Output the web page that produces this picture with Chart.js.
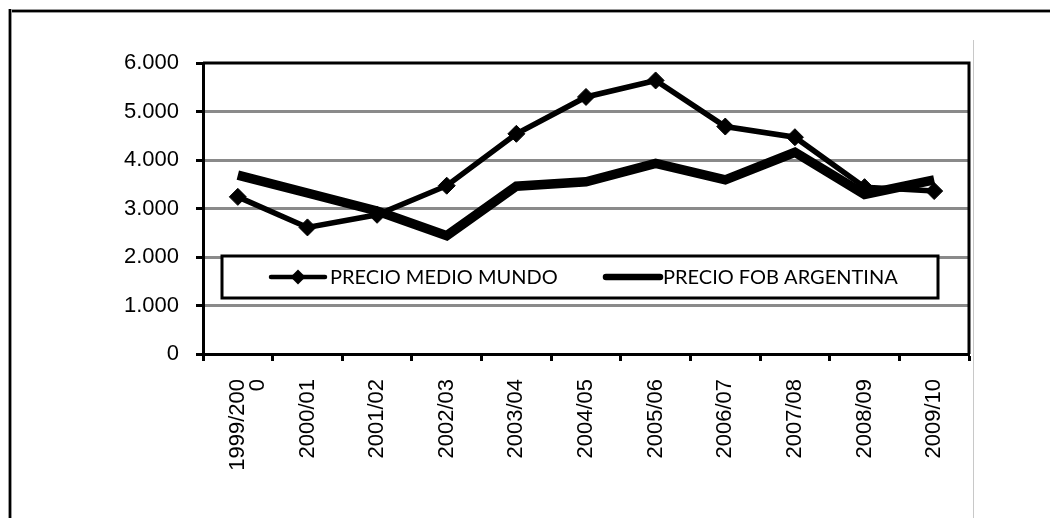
<!DOCTYPE html>
<html>
<head>
<meta charset="utf-8">
<script src="https://cdn.jsdelivr.net/npm/chart.js@4.4.1/dist/chart.umd.min.js"></script>
<style>
    html, body { margin: 0; padding: 0; background: #fff; }
    #wrap { position: relative; width: 1050px; height: 518px; overflow: hidden; }
    #chart { position: absolute; left: 0; top: 0; }
    .frame-top { position: absolute; left: 8px; top: 9px; width: 1042px; height: 2px; background: #000; border-top: 1px solid #999; border-bottom: 1px solid #999; }
    .frame-left { position: absolute; left: 8px; top: 9px; width: 2px; height: 509px; background: #000; border-left: 1px solid #999; border-right: 1px solid #999; }
    .frame-right { position: absolute; left: 973px; top: 40px; width: 1px; height: 478px; background: #c8c8c8; }
</style>
</head>
<body>
<div id="wrap">
    <canvas id="chart" width="1050" height="518"></canvas>
    <div class="frame-top"></div>
    <div class="frame-left"></div>
    <div class="frame-right"></div>
</div>
<script>
// campañas
const categories = [['1999/200', '0'], '2000/01', '2001/02', '2002/03', '2003/04', '2004/05',
    '2005/06', '2006/07', '2007/08', '2008/09', '2009/10'];

// valores
const precioMedioMundo = [3240, 2610, 2870, 3470, 4540, 5300, 5640, 4690, 4470, 3440, 3360];
const precioFobArgentina = [3690, 3320, 2950, 2440, 3460, 3550, 3930, 3590, 4160, 3290, 3590];

const yTicks = [0, 1000, 2000, 3000, 4000, 5000, 6000];

const tickFont = { family: "Arial, 'Liberation Sans', sans-serif", size: 22, lineHeight: 0.9 };

function formatMiles(v) {
    return String(v).replace(/\B(?=(\d{3})+(?!\d))/g, '.');
}

// marco superior/derecho del área de trazado
const plotFrame = {
    id: 'plotFrame',
    afterDatasetsDraw(chart) {
        const { ctx, chartArea: a } = chart;
        ctx.save();
        ctx.strokeStyle = '#000';
        ctx.lineWidth = 3;
        ctx.beginPath();
        ctx.moveTo(a.left, a.top);
        ctx.lineTo(a.right, a.top);
        ctx.lineTo(a.right, a.bottom);
        ctx.stroke();
        ctx.restore();
    }
};

// leyenda con recuadro dentro del gráfico
const boxLegend = {
    id: 'boxLegend',
    afterDatasetsDraw(chart) {
        const { ctx } = chart;
        const box = { left: 222, top: 256, right: 938, bottom: 298 };
        ctx.save();
        ctx.fillStyle = '#fff';
        ctx.fillRect(box.left, box.top, box.right - box.left, box.bottom - box.top);
        ctx.strokeStyle = '#000';
        ctx.lineWidth = 3;
        ctx.strokeRect(box.left, box.top, box.right - box.left, box.bottom - box.top);

        const midY = (box.top + box.bottom) / 2;
        const entries = [{ x: 271, textX: 330, w: 4.5 }, { x: 606, textX: 663, w: 6.5 }];
        ctx.font = "20px Lato, 'Liberation Sans Narrow', sans-serif";
        ctx.textBaseline = 'middle';
        ctx.fillStyle = '#000';
        chart.data.datasets.forEach((ds, i) => {
            const e = entries[i];
            ctx.strokeStyle = ds.borderColor;
            ctx.lineWidth = e.w;
            ctx.lineCap = 'round';
            ctx.beginPath();
            ctx.moveTo(e.x, midY);
            ctx.lineTo(e.x + 54, midY);
            ctx.stroke();
            if (ds.pointRadius > 0) {
                const r = 7.5;
                const cx = e.x + 27;
                ctx.beginPath();
                ctx.moveTo(cx, midY - r);
                ctx.lineTo(cx + r, midY);
                ctx.lineTo(cx, midY + r);
                ctx.lineTo(cx - r, midY);
                ctx.closePath();
                ctx.fill();
            }
            ctx.fillText(ds.label, e.textX, midY + 1);
        });
        ctx.restore();
    }
};

new Chart(document.getElementById('chart'), {
    type: 'line',
    data: {
        labels: categories,
        datasets: [
            {
                label: 'PRECIO MEDIO MUNDO',
                data: precioMedioMundo,
                borderColor: '#000',
                backgroundColor: '#000',
                borderWidth: 5.5,
                pointStyle: 'rectRot',
                pointRadius: 8.5,
                pointBorderWidth: 1,
                tension: 0
            },
            {
                label: 'PRECIO FOB ARGENTINA',
                data: precioFobArgentina,
                borderColor: '#000',
                backgroundColor: '#000',
                borderWidth: 9.5,
                pointRadius: 0,
                tension: 0
            }
        ]
    },
    options: {
        responsive: false,
        animation: false,
        devicePixelRatio: 1,
        layout: { padding: { top: 63, right: 81, left: 0, bottom: 0 } },
        plugins: {
            legend: { display: false },
            tooltip: { enabled: false }
        },
        scales: {
            x: {
                offset: true,
                afterFit: (scale) => { scale.height = 164; },
                border: { display: true, color: '#000', width: 3 },
                grid: {
                    offset: true,
                    drawOnChartArea: false,
                    tickLength: 7,
                    tickColor: '#000',
                    tickWidth: 3
                },
                ticks: {
                    minRotation: 90,
                    maxRotation: 90,
                    autoSkip: false,
                    padding: 18,
                    color: '#000',
                    font: tickFont
                }
            },
            y: {
                min: 0,
                max: 6000,
                afterFit: (scale) => { scale.width = 203; },
                afterBuildTicks: (scale) => { scale.ticks = yTicks.map(v => ({ value: v })); },
                border: { display: true, color: '#000', width: 3 },
                grid: {
                    color: (c) => (c.tick && (c.tick.value === 0 || c.tick.value === 6000)) ? 'rgba(0,0,0,0)' : '#8a8a8a',
                    lineWidth: 3,
                    borderDash: [4, 2],
                    tickLength: 7,
                    tickColor: '#000',
                    tickWidth: 3,
                    tickBorderDash: []
                },
                ticks: {
                    padding: 17,
                    color: '#000',
                    font: tickFont,
                    callback: (v) => formatMiles(v)
                }
            }
        }
    },
    plugins: [plotFrame, boxLegend]
});
</script>
</body>
</html>
